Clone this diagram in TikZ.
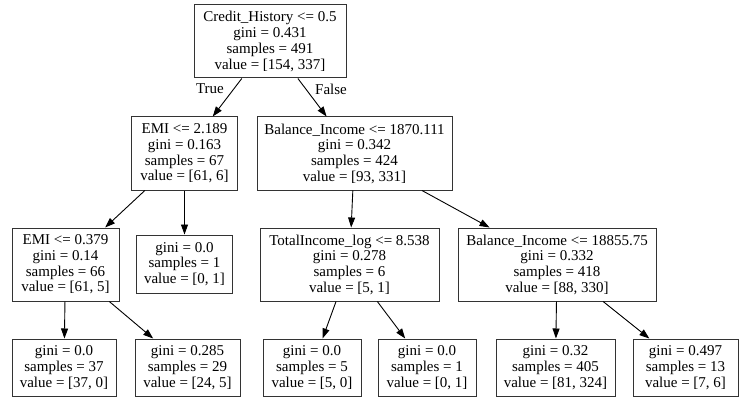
\documentclass[tikz,border=0pt]{standalone}
\usepackage{fontspec}
\setmainfont{Liberation Serif}
\usetikzlibrary{arrows.meta}
\begin{document}
\begin{tikzpicture}[x=1pt,y=-1pt,
  tree/.style={draw=black!80,line width=1pt,align=center,inner sep=0pt,
    font=\fontsize{15}{15.7}\selectfont},
  edge/.style={line width=0.9pt,-{Triangle[length=10pt,width=7pt]}},
  elab/.style={font=\fontsize{15}{15.7}\selectfont,inner sep=0pt}]
\useasboundingbox (0,0) rectangle (746,406);
% level 0
\node[tree,minimum width=152pt,minimum height=73pt] (root) at (270,41.5)
  {Credit\_History <= 0.5\\gini = 0.431\\samples = 491\\value = [154, 337]};
% level 1
\node[tree,minimum width=106pt,minimum height=73pt] (emiA) at (184.5,153.5)
  {EMI <= 2.189\\gini = 0.163\\samples = 67\\value = [61, 6]};
\node[tree,minimum width=195pt,minimum height=73pt] (balA) at (354.5,153.5)
  {Balance\_Income <= 1870.111\\gini = 0.342\\samples = 424\\value = [93, 331]};
% level 2
\node[tree,minimum width=107pt,minimum height=73pt] (emiB) at (65.5,264.5)
  {EMI <= 0.379\\gini = 0.14\\samples = 66\\value = [61, 5]};
\node[tree,minimum width=96pt,minimum height=58pt] (leafA) at (184.5,264)
  {gini = 0.0\\samples = 1\\value = [0, 1]};
\node[tree,minimum width=179pt,minimum height=73pt] (tot) at (349.5,264.5)
  {TotalIncome\_log <= 8.538\\gini = 0.278\\samples = 6\\value = [5, 1]};
\node[tree,minimum width=198pt,minimum height=73pt] (balB) at (557,264.5)
  {Balance\_Income <= 18855.75\\gini = 0.332\\samples = 418\\value = [88, 330]};
% level 3
\node[tree,minimum width=104pt,minimum height=57pt] (l1) at (64,367.5)
  {gini = 0.0\\samples = 37\\value = [37, 0]};
\node[tree,minimum width=105pt,minimum height=57pt] (l2) at (187.5,367.5)
  {gini = 0.285\\samples = 29\\value = [24, 5]};
\node[tree,minimum width=98pt,minimum height=57pt] (l3) at (312,367.5)
  {gini = 0.0\\samples = 5\\value = [5, 0]};
\node[tree,minimum width=98pt,minimum height=57pt] (l4) at (427,367.5)
  {gini = 0.0\\samples = 1\\value = [0, 1]};
\node[tree,minimum width=119pt,minimum height=57pt] (l5) at (555.5,367.5)
  {gini = 0.32\\samples = 405\\value = [81, 324]};
\node[tree,minimum width=105pt,minimum height=57pt] (l6) at (685.5,367.5)
  {gini = 0.497\\samples = 13\\value = [7, 6]};
% edges
\draw[edge] (root) -- (emiA);
\draw[edge] (root) -- (balA);
\draw[edge] (emiA) -- (emiB);
\draw[edge] (emiA) -- (leafA);
\draw[edge] (balA) -- (tot);
\draw[edge] (balA) -- (balB);
\draw[edge] (emiB) -- (l1);
\draw[edge] (emiB) -- (l2);
\draw[edge] (tot) -- (l3);
\draw[edge] (tot) -- (l4);
\draw[edge] (balB) -- (l5);
\draw[edge] (balB) -- (l6);
% edge labels
\node[elab] (t) at (210,89) {True};
\node[elab] (f) at (331,89) {False};
\end{tikzpicture}
\end{document}
